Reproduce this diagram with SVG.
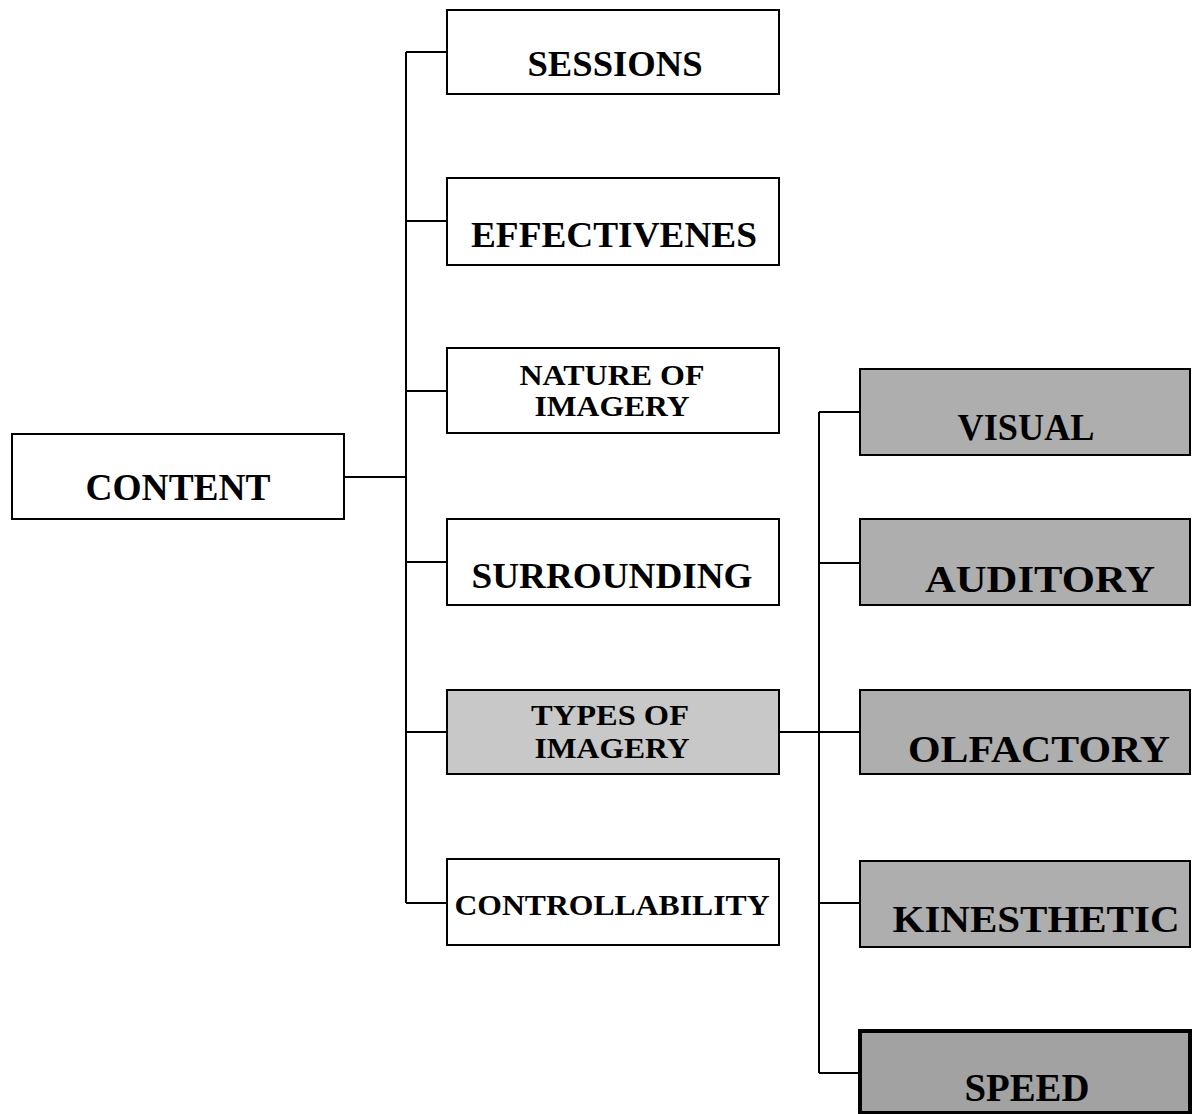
<svg xmlns="http://www.w3.org/2000/svg" width="1192" height="1114" viewBox="0 0 1192 1114">
<style>
.box{fill:#fff;stroke:#000;stroke-width:2}
.g1{fill:#c8c8c8;stroke:#000;stroke-width:2}
.g2{fill:#aeaeae;stroke:#000;stroke-width:2}
.g3{fill:#a2a2a2;stroke:#000;stroke-width:4}
.t{font-family:"Liberation Serif","Times New Roman",serif;font-weight:bold;fill:#000;text-anchor:middle}
.l{fill:none;stroke:#000;stroke-width:2}
</style>
<rect width="1192" height="1114" fill="#fff"/>
<g id="connectors">
<path class="l" d="M344 477H406M406 52V903M406 52H447M406 221H447M406 391H447M406 562H447M406 732H447M406 903H447"/>
<path class="l" d="M779 732H860M819 412V1073M819 412H860M819 563H860M819 903H860M819 1073H860"/>
</g>
<g id="content"><rect class="box" x="12" y="434" width="332" height="85"/><text class="t" x="178" y="500" font-size="37" textLength="185" lengthAdjust="spacingAndGlyphs">CONTENT</text></g>
<g id="sessions"><rect class="box" x="447" y="10" width="332" height="84"/><text class="t" x="615" y="76" font-size="36" textLength="175" lengthAdjust="spacingAndGlyphs">SESSIONS</text></g>
<g id="effectivenes"><rect class="box" x="447" y="178" width="332" height="87"/><text class="t" x="614" y="247" font-size="36" textLength="286" lengthAdjust="spacingAndGlyphs">EFFECTIVENES</text></g>
<g id="nature"><rect class="box" x="447" y="348" width="332" height="85"/><text class="t" x="612" y="385" font-size="29" textLength="185" lengthAdjust="spacingAndGlyphs">NATURE OF</text><text class="t" x="612" y="416" font-size="29" textLength="155" lengthAdjust="spacingAndGlyphs">IMAGERY</text></g>
<g id="surrounding"><rect class="box" x="447" y="519" width="332" height="86"/><text class="t" x="612" y="588" font-size="36" textLength="281" lengthAdjust="spacingAndGlyphs">SURROUNDING</text></g>
<g id="types"><rect class="g1" x="447" y="690" width="332" height="84"/><text class="t" x="610" y="725" font-size="29" textLength="158" lengthAdjust="spacingAndGlyphs">TYPES OF</text><text class="t" x="612" y="758" font-size="29" textLength="155" lengthAdjust="spacingAndGlyphs">IMAGERY</text></g>
<g id="controllability"><rect class="box" x="447" y="859" width="332" height="86"/><text class="t" x="612" y="915" font-size="30" textLength="315" lengthAdjust="spacingAndGlyphs">CONTROLLABILITY</text></g>
<g id="visual"><rect class="g2" x="860" y="369" width="330" height="86"/><text class="t" x="1026" y="440" font-size="37" textLength="137" lengthAdjust="spacingAndGlyphs">VISUAL</text></g>
<g id="auditory"><rect class="g2" x="860" y="519" width="330" height="86"/><text class="t" x="1040" y="592" font-size="37" textLength="230" lengthAdjust="spacingAndGlyphs">AUDITORY</text></g>
<g id="olfactory"><rect class="g2" x="860" y="690" width="330" height="84"/><text class="t" x="1039" y="762" font-size="37" textLength="262" lengthAdjust="spacingAndGlyphs">OLFACTORY</text></g>
<g id="kinesthetic"><rect class="g2" x="860" y="861" width="330" height="86"/><text class="t" x="1036" y="932" font-size="37" textLength="287" lengthAdjust="spacingAndGlyphs">KINESTHETIC</text></g>
<g id="speed"><rect class="g3" x="860" y="1031" width="330" height="82"/><text class="t" x="1027" y="1101" font-size="40" textLength="125" lengthAdjust="spacingAndGlyphs">SPEED</text></g>
</svg>
